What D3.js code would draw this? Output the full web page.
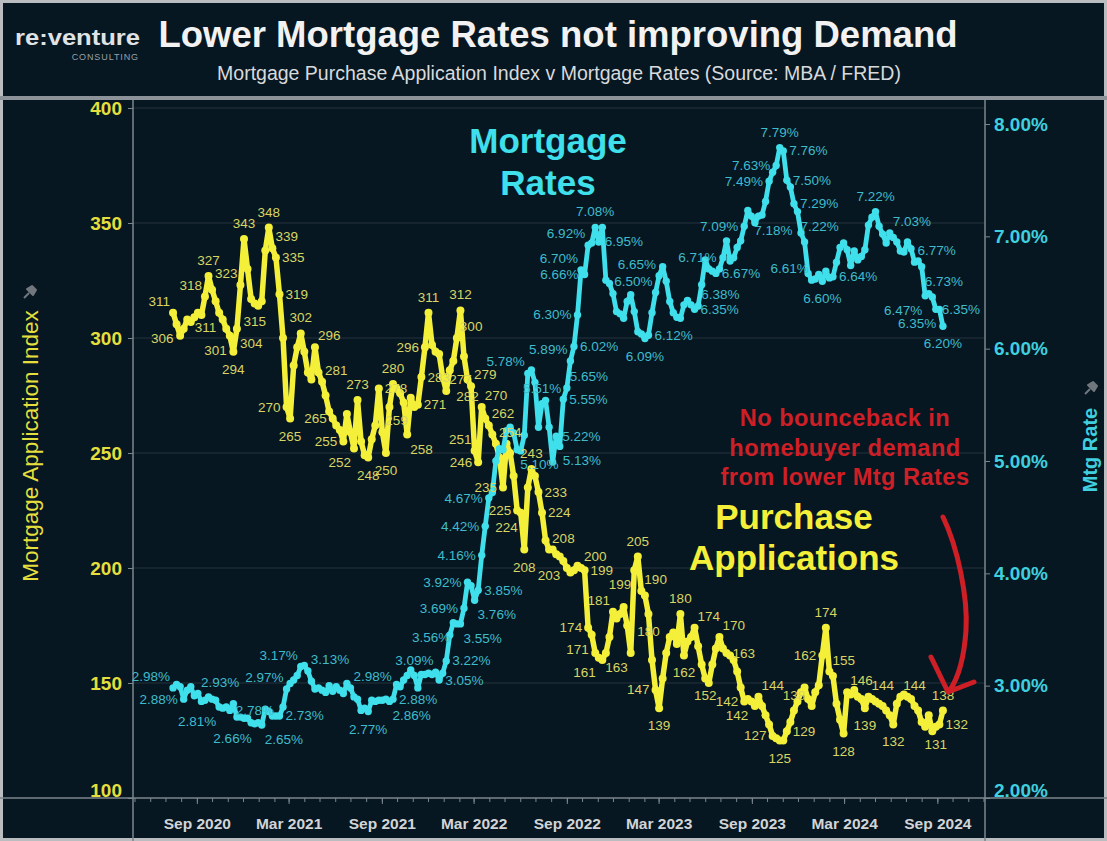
<!DOCTYPE html>
<html>
<head>
<meta charset="utf-8">
<script src="https://cdn.jsdelivr.net/npm/d3@7"></script>
<style>
  html, body { margin: 0; padding: 0; background: #071722; }
  svg { display: block; font-family: "Liberation Sans", Arial, sans-serif; }
</style>
</head>
<body>
<svg id="chart" width="1107" height="841"></svg>
<script>
// ---- Data -------------------------------------------------------------
// Weekly observations (Thursdays), first and last week of the series
const firstWeek = "2020-07-16";
const lastWeek = "2024-09-12";

// 30-year fixed mortgage rate, % (weekly)
const mortgageRate = [
  2.98,3.01,2.99,2.88,2.96,2.99,2.91,2.93,2.86,2.87,2.90,2.88,2.87,2.81,2.80,2.81,2.78,2.84,2.72,2.72,2.71,2.71,2.67,2.66,2.67,
  2.65,2.79,2.77,2.73,2.73,2.73,2.81,2.97,3.02,3.05,3.09,3.17,3.18,3.13,3.04,2.97,2.98,2.96,2.94,3.00,2.95,2.99,2.96,2.93,3.02,2.98,
  2.90,2.88,2.78,2.80,2.77,2.87,2.86,2.87,2.87,2.88,2.86,2.88,3.01,2.99,3.05,3.09,3.14,3.09,2.98,3.10,3.10,3.11,3.10,3.12,3.05,3.11,
  3.22,3.45,3.56,3.55,3.55,3.69,3.92,3.89,3.76,3.85,4.16,4.42,4.67,4.72,5.00,5.11,5.10,5.27,5.30,5.25,5.10,5.09,5.23,5.78,5.81,5.70,
  5.30,5.51,5.54,5.30,4.99,5.22,5.13,5.55,5.65,5.89,6.02,6.30,6.70,6.66,6.92,6.94,7.08,6.95,7.08,6.61,6.58,6.49,6.33,6.31,6.27,6.42,
  6.48,6.33,6.15,6.13,6.09,6.12,6.32,6.50,6.65,6.73,6.60,6.42,6.32,6.28,6.27,6.39,6.43,6.39,6.35,6.38,6.57,6.79,6.71,6.69,6.67,6.71,
  6.81,6.96,6.78,6.81,6.90,6.96,7.09,7.23,7.18,7.12,7.18,7.19,7.31,7.49,7.57,7.63,7.79,7.76,7.50,7.44,7.29,7.22,7.03,6.95,6.67,6.61,
  6.62,6.66,6.60,6.69,6.63,6.64,6.77,6.90,6.94,6.88,6.74,6.87,6.79,6.82,6.88,7.10,7.17,7.22,7.09,7.02,6.94,7.03,6.99,6.95,6.87,6.86,
  6.95,6.89,6.77,6.78,6.73,6.47,6.49,6.46,6.35,6.35,6.20
];

// MBA mortgage purchase application index (weekly)
const purchaseIndex = [
  311,306,301,304,308,307,309,311,310,318,327,321,316,311,308,304,301,294,304,323,343,330,317,315,314,316,338,348,339,335,
  319,300,270,265,288,296,302,294,285,282,296,285,281,275,268,265,262,260,255,267,259,252,273,255,249,248,256,262,278,259,
  250,270,280,278,276,272,258,274,270,271,283,296,311,297,294,293,283,277,286,290,300,312,292,282,279,251,246,270,265,262,
  258,254,248,235,254,250,240,225,224,208,235,243,240,233,224,212,208,208,206,205,203,200,198,199,201,200,199,174,171,163,
  161,160,163,170,181,178,180,183,175,163,199,205,190,188,180,160,147,139,152,163,170,172,167,180,162,168,170,174,166,158,
  152,150,158,165,170,165,163,162,160,155,148,142,143,142,140,144,140,136,132,127,126,125,125,129,133,138,142,146,148,143,
  140,146,149,162,174,155,153,141,134,128,146,145,147,144,143,139,144,143,142,141,140,138,136,132,141,144,145,144,143,140,
  138,133,131,136,129,131,132,138
];

// Axis ticks
const indexTicks = [100, 150, 200, 250, 300, 350, 400];
const rateTicks = [2, 3, 4, 5, 6, 7, 8];
const monthTickDates = ["2020-09-01","2021-03-01","2021-09-01","2022-03-01","2022-09-01","2023-03-01","2023-09-01","2024-03-01","2024-09-01"];
const monthTickLabels = ["Sep 2020","Mar 2021","Sep 2021","Mar 2022","Sep 2022","Mar 2023","Sep 2023","Mar 2024","Sep 2024"];

// Which points carry a value label, and on which side of the point it sits
const rateLabelPoints = [
  [0,"tl"],[3,"l"],[7,"tr"],[13,"bl"],[16,"r"],[23,"bl"],[25,"br"],[30,"r"],[32,"tl"],[36,"tl"],[38,"tr"],
  [50,"tr"],[55,"b"],[61,"br"],[62,"r"],[68,"t"],[75,"r"],[77,"r"],[79,"bl"],[81,"br"],[82,"l"],[83,"l"],
  [85,"br"],[86,"r"],[87,"l"],[88,"l"],[89,"l"],[97,"br"],[100,"tl"],[104,"t"],[108,"r"],[109,"br"],[110,"r"],
  [111,"tr"],[112,"tl"],[113,"r"],[114,"l"],[115,"tl"],[116,"l"],[117,"tl"],[119,"t"],[120,"r"],
  [133,"b"],[134,"r"],[136,"tl"],[137,"tl"],[147,"r"],[148,"tr"],[153,"r"],[154,"tl"],[161,"l"],[163,"br"],
  [168,"l"],[170,"l"],[171,"t"],[172,"r"],[173,"r"],[175,"r"],[176,"br"],[180,"tl"],[183,"b"],[186,"r"],
  [198,"t"],[202,"tr"],[209,"tr"],[211,"br"],[212,"bl"],[215,"r"],[216,"bl"],[217,"b"]
];
const indexLabelPoints = [
  [0,"tl"],[1,"bl"],[9,"tl"],[10,"t"],[13,"bl"],[16,"bl"],[17,"b"],[18,"br"],[19,"tl"],[20,"t"],[23,"b"],
  [27,"t"],[28,"tr"],[29,"r"],[30,"r"],[32,"l"],[33,"b"],[36,"t"],[40,"tr"],[42,"tr"],[45,"l"],[48,"l"],
  [51,"bl"],[52,"t"],[55,"b"],[58,"r"],[59,"tr"],[60,"b"],[62,"t"],[66,"br"],[69,"r"],[70,"r"],[71,"l"],
  [72,"t"],[77,"tr"],[80,"tr"],[81,"t"],[83,"b"],[84,"tr"],[85,"tl"],[86,"l"],[87,"tr"],[89,"tr"],[91,"tr"],
  [93,"l"],[97,"l"],[98,"bl"],[99,"b"],[101,"t"],[103,"r"],[104,"r"],[106,"tr"],[110,"bl"],[115,"tr"],[116,"r"],
  [117,"l"],[118,"bl"],[120,"bl"],[124,"tl"],[129,"bl"],[130,"bl"],[131,"t"],[132,"tr"],[134,"b"],[136,"l"],
  [137,"b"],[143,"t"],[144,"b"],[147,"tr"],[150,"b"],[154,"tr"],[156,"r"],[161,"l"],[163,"bl"],[165,"tr"],
  [169,"l"],[171,"b"],[173,"r"],[175,"t"],[183,"l"],[184,"t"],[185,"tr"],[189,"b"],[190,"tr"],[195,"b"],
  [196,"tr"],[203,"b"],[205,"tr"],[215,"b"],[216,"r"],[217,"t"]
];

// ---- Setup ------------------------------------------------------------
const W = 1107, H = 841;
const M = { left: 133, right: 985, top: 100, bottom: 798 };
const C = {
  bg: "#071722", frame: "#8d9499", axis: "#7c868d", grid: "#24333d",
  yellow: "#f4f03a", yellowText: "#d8d562", yellowTick: "#e4df3c",
  cyan: "#3fe0ec", cyanText: "#3fbccb", cyanTick: "#3fcfdf",
  red: "#cf1f26", white: "#f2f2f2", grey: "#d2d4d6"
};

const parse = d3.timeParse("%Y-%m-%d");
const weeks = d3.timeThursday.range(parse(firstWeek), d3.timeDay.offset(parse(lastWeek), 1));

const series = weeks.map((d, i) => ({ date: d, rate: mortgageRate[i], index: purchaseIndex[i] }));

const x = d3.scaleTime().domain([parse("2020-04-28"), parse("2024-12-04")]).range([M.left, M.right]);
const yIdx = d3.scaleLinear().domain([100, 400]).range([M.bottom, 108]);
const yRate = d3.scaleLinear().domain([2, 8]).range([M.bottom, 124]);

const svg = d3.select("#chart");

// ---- Frame & header ---------------------------------------------------
svg.append("rect").attr("width", W).attr("height", H).attr("fill", C.bg);
svg.append("rect").attr("x", 1.5).attr("y", 1.5).attr("width", W - 3).attr("height", H - 3)
  .attr("fill", "none").attr("stroke", "#b9bdc0").attr("stroke-width", 3);
svg.append("rect").attr("x", 0).attr("y", 96).attr("width", W).attr("height", 4).attr("fill", C.frame);

const logo = svg.append("g");
logo.append("text").attr("x", 15).attr("y", 45).attr("fill", "#e0e3e5")
  .attr("font-size", 22).attr("font-weight", "bold")
  .attr("textLength", 125).attr("lengthAdjust", "spacingAndGlyphs").text("re:venture");
logo.append("text").attr("x", 139).attr("y", 60).attr("text-anchor", "end").attr("fill", "#9aa0a5")
  .attr("font-size", 9).attr("letter-spacing", 0.9).text("CONSULTING");

svg.append("text").attr("x", 558).attr("y", 47).attr("text-anchor", "middle")
  .attr("fill", C.white).attr("font-size", 36.5).attr("font-weight", "bold")
  .text("Lower Mortgage Rates not improving Demand");
svg.append("text").attr("x", 559).attr("y", 80).attr("text-anchor", "middle")
  .attr("fill", "#d8dadc").attr("font-size", 19.5)
  .text("Mortgage Purchase Application Index v Mortgage Rates (Source: MBA / FRED)");

// ---- Grid & axes ------------------------------------------------------
svg.append("g")
  .selectAll("line").data(indexTicks.filter(t => t > 100)).join("line")
  .attr("x1", M.left).attr("x2", M.right)
  .attr("y1", d => yIdx(d)).attr("y2", d => yIdx(d))
  .attr("stroke", C.grid).attr("stroke-width", 1.2);

// bottom rule across the full width
svg.append("line").attr("x1", 0).attr("x2", W).attr("y1", M.bottom).attr("y2", M.bottom)
  .attr("stroke", C.axis).attr("stroke-width", 1.5);
// vertical axis rules running down through the date band
[M.left, M.right].forEach(px => {
  svg.append("line").attr("x1", px).attr("x2", px).attr("y1", M.top).attr("y2", H)
    .attr("stroke", C.axis).attr("stroke-width", 1.5);
});

const leftAxis = svg.append("g").attr("transform", `translate(${M.left},0)`)
  .call(d3.axisLeft(yIdx).tickValues(indexTicks).tickSize(5).tickPadding(6).tickFormat(d3.format("d")));
leftAxis.select(".domain").remove();
leftAxis.selectAll("line").attr("stroke", C.axis);
leftAxis.selectAll("text").attr("fill", C.yellowTick).attr("font-size", 19).attr("font-weight", "bold")
  .attr("font-family", "Liberation Sans, Arial, sans-serif")
  .attr("dy", d => d === 100 ? "-0.1em" : "0.32em");

const rightAxis = svg.append("g").attr("transform", `translate(${M.right},0)`)
  .call(d3.axisRight(yRate).tickValues(rateTicks).tickSize(5).tickPadding(4).tickFormat(d => d3.format(".2f")(d) + "%"));
rightAxis.select(".domain").remove();
rightAxis.selectAll("line").attr("stroke", C.axis);
rightAxis.selectAll("text").attr("fill", C.cyanTick).attr("font-size", 19).attr("font-weight", "bold")
  .attr("font-family", "Liberation Sans, Arial, sans-serif")
  .attr("dy", d => d === 2 ? "-0.1em" : "0.32em");

// monthly tick marks along the date axis
const monthAxis = svg.append("g").attr("transform", `translate(0,${M.bottom})`)
  .call(d3.axisBottom(x).ticks(d3.timeMonth.every(1)).tickSize(4).tickFormat(""));
monthAxis.select(".domain").remove();
monthAxis.selectAll("line").attr("stroke", C.axis);

const dateAxis = svg.append("g").attr("transform", `translate(0,${M.bottom})`)
  .call(d3.axisBottom(x).tickValues(monthTickDates.map(parse)).tickSize(6).tickPadding(14)
    .tickFormat((d, i) => monthTickLabels[i]));
dateAxis.select(".domain").remove();
dateAxis.selectAll("line").attr("stroke", C.axis);
dateAxis.selectAll("text").attr("fill", C.grey).attr("font-size", 15.5).attr("font-weight", "bold")
  .attr("font-family", "Liberation Sans, Arial, sans-serif");

// axis titles with pin marks
function pin(cx, cy) {
  svg.append("path")
    .attr("d", `M${cx - 6},${cy + 6} L${cx - 1},${cy + 1} M${cx - 3},${cy - 3} L${cx + 3},${cy + 3} L${cx + 6},${cy - 2} L${cx + 2},${cy - 6} Z`)
    .attr("fill", "#70777d").attr("stroke", "#70777d").attr("stroke-width", 2).attr("stroke-linejoin", "round");
}
svg.append("text").attr("transform", "translate(38,446) rotate(-90)").attr("text-anchor", "middle")
  .attr("fill", C.yellowTick).attr("font-size", 22.5).text("Mortgage Application Index");
pin(30, 292);
svg.append("text").attr("transform", "translate(1097,450) rotate(-90)").attr("text-anchor", "middle")
  .attr("fill", C.cyanTick).attr("font-size", 20).attr("font-weight", "bold").text("Mtg Rate");
pin(1091, 388);

// ---- Series -----------------------------------------------------------
const idxLine = d3.line().x(d => x(d.date)).y(d => yIdx(d.index));
const rateLine = d3.line().x(d => x(d.date)).y(d => yRate(d.rate));

svg.append("path").datum(series).attr("d", idxLine)
  .attr("fill", "none").attr("stroke", C.yellow).attr("stroke-width", 5.5)
  .attr("stroke-linejoin", "round").attr("stroke-linecap", "round");
svg.append("g").selectAll("circle").data(series).join("circle")
  .attr("cx", d => x(d.date)).attr("cy", d => yIdx(d.index)).attr("r", 4).attr("fill", C.yellow);

svg.append("path").datum(series).attr("d", rateLine)
  .attr("fill", "none").attr("stroke", C.cyan).attr("stroke-width", 4.8)
  .attr("stroke-linejoin", "round").attr("stroke-linecap", "round");
svg.append("g").selectAll("circle").data(series).join("circle")
  .attr("cx", d => x(d.date)).attr("cy", d => yRate(d.rate)).attr("r", 3.7).attr("fill", C.cyan);

// ---- Value labels -----------------------------------------------------
const side = {
  t:  { dx: 0,  dy: -11, a: "middle" },
  b:  { dx: 0,  dy: 22,  a: "middle" },
  l:  { dx: -6, dy: 4.5, a: "end" },
  r:  { dx: 6,  dy: 4.5, a: "start" },
  tl: { dx: -3, dy: -7,  a: "end" },
  tr: { dx: 3,  dy: -7,  a: "start" },
  bl: { dx: -3, dy: 19,  a: "end" },
  br: { dx: 3,  dy: 19,  a: "start" }
};

svg.append("g").selectAll("text").data(indexLabelPoints).join("text")
  .attr("x", ([i, s]) => x(series[i].date) + side[s].dx)
  .attr("y", ([i, s]) => yIdx(series[i].index) + side[s].dy)
  .attr("text-anchor", ([, s]) => side[s].a)
  .attr("fill", C.yellowText).attr("font-size", 13.5)
  .text(([i]) => series[i].index);

svg.append("g").selectAll("text").data(rateLabelPoints).join("text")
  .attr("x", ([i, s]) => x(series[i].date) + side[s].dx)
  .attr("y", ([i, s]) => yRate(series[i].rate) + side[s].dy)
  .attr("text-anchor", ([, s]) => side[s].a)
  .attr("fill", C.cyanText).attr("font-size", 13.5)
  .text(([i]) => d3.format(".2f")(series[i].rate) + "%");

// ---- Annotations ------------------------------------------------------
const big = svg.append("g").attr("font-size", 35).attr("font-weight", "bold").attr("text-anchor", "middle");
big.append("text").attr("x", 548).attr("y", 153).attr("fill", C.cyan).text("Mortgage");
big.append("text").attr("x", 548).attr("y", 195).attr("fill", C.cyan).text("Rates");
big.append("text").attr("x", 794).attr("y", 529).attr("fill", C.yellow).text("Purchase");
big.append("text").attr("x", 794).attr("y", 570).attr("fill", C.yellow).text("Applications");

const note = svg.append("g").attr("font-size", 23.5).attr("font-weight", "bold").attr("letter-spacing", 0.5)
  .attr("text-anchor", "middle").attr("fill", C.red);
["No bounceback in", "homebuyer demand", "from lower Mtg Rates"].forEach((t, k) => {
  note.append("text").attr("x", 845).attr("y", 426 + k * 29.5).text(t);
});

svg.append("path")
  .attr("d", "M943,517 C958,548 968,598 966,630 C964,660 958,678 950,690 M931,657 L948,692 L974,682")
  .attr("fill", "none").attr("stroke", C.red).attr("stroke-width", 5)
  .attr("stroke-linecap", "round").attr("stroke-linejoin", "round");
</script>
</body>
</html>
